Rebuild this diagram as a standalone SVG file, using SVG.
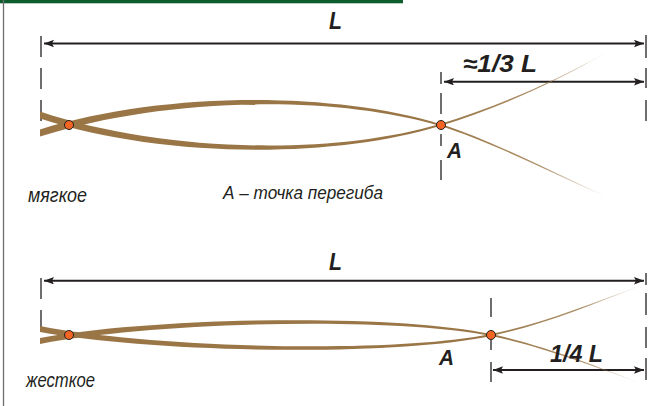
<svg xmlns="http://www.w3.org/2000/svg" width="648" height="406" viewBox="0 0 648 406">
<style>
.dim{stroke:#231f20;stroke-width:2;fill:none;marker-start:url(#ah);marker-end:url(#ah)}
.tick{stroke:#231f20;stroke-width:1.3;fill:none}
.rod{fill:#9a7646}
.dot{fill:#f26522;stroke:#231f20;stroke-width:1}
.lbl{font-family:"Liberation Sans Narrow","Liberation Sans",Arial,sans-serif;font-style:italic;fill:#231f20}
.big{font-weight:bold}
</style>
<defs>
<marker id="ah" markerUnits="userSpaceOnUse" markerWidth="12" markerHeight="10" refX="10" refY="3.75" orient="auto-start-reverse">
<path d="M0,0 L10,3.75 L0,7.5 L2,3.75 Z" fill="#231f20"/>
</marker>
<linearGradient id="fadeTop" gradientUnits="userSpaceOnUse" x1="440" y1="0" x2="607" y2="0">
<stop offset="0" stop-color="#9a7646" stop-opacity="1"/>
<stop offset="0.6" stop-color="#9a7646" stop-opacity="0.8"/>
<stop offset="1" stop-color="#9a7646" stop-opacity="0"/>
</linearGradient>
<linearGradient id="fadeBot" gradientUnits="userSpaceOnUse" x1="491" y1="0" x2="640" y2="0">
<stop offset="0" stop-color="#9a7646" stop-opacity="1"/>
<stop offset="0.6" stop-color="#9a7646" stop-opacity="0.8"/>
<stop offset="1" stop-color="#9a7646" stop-opacity="0"/>
</linearGradient>
</defs>
<rect width="648" height="406" fill="#ffffff"/>
<rect x="0" y="0" width="403" height="3.3" fill="#0d5c2e"/>
<line x1="3.5" y1="0" x2="3.5" y2="406" stroke="#6d6e71" stroke-width="1.3"/>

<g id="connectors">
<path class="tick" d="M41,36V57M41,68V89M41,100V121"/>
<path class="tick" d="M646,35V58M646,68V88M646,100V121"/>
<path class="tick" d="M441,72V84M441,93V114M441,134V146M441,160V180"/>
<line class="dim" x1="44" y1="43.5" x2="644" y2="43.5"/>
<line class="dim" x1="444" y1="81.7" x2="644" y2="81.7"/>
<path class="tick" d="M41,278V299M41,310V327"/>
<path class="tick" d="M646,273V285M646,293V315M646,327V348M646,358V380"/>
<path class="tick" d="M491,298V317M491,340V350M491,362V382"/>
<line class="dim" x1="44" y1="280.7" x2="644" y2="280.7"/>
<line class="dim" x1="493" y1="370" x2="644" y2="370"/>
</g>

<g id="soft-rod">
<path class="rod" d="M40,129.5 C160,92 330,90.5 440,124 L440,126 C330,93.5 160,98 40,136.5 Z"/>
<path class="rod" d="M40,111.5 C160,152 330,156.5 440,124 L440,126 C330,159.5 160,158 40,118.5 Z"/>
<path fill="url(#fadeTop)" d="M440,124 C490,109.1 550,84.3 607,51.7 L607,52.3 C550,85.7 490,110.9 440,126 Z"/>
<path fill="url(#fadeTop)" d="M440,124 C490,139.1 550,171.3 607,196.7 L607,197.3 C550,172.7 490,140.9 440,126 Z"/>
</g>
<g id="soft-left-point"><circle class="dot" cx="69" cy="125" r="4.5"/></g>
<g id="soft-point-A"><circle class="dot" cx="441" cy="125" r="4.5"/>
<text class="lbl big" x="447" y="158" font-size="22" textLength="15" lengthAdjust="spacingAndGlyphs">A</text></g>

<g id="stiff-rod">
<path class="rod" d="M40,338 C150,317.7 390,312.5 491,334 L491,336 C390,315.5 150,322.3 40,344 Z"/>
<path class="rod" d="M40,326 C150,347.7 390,354.5 491,334 L491,336 C390,357.5 150,352.3 40,332 Z"/>
<path fill="url(#fadeBot)" d="M491,334 C540,324.1 590,304.3 637,286.7 L637,287.3 C590,305.7 540,325.9 491,336 Z"/>
<path fill="url(#fadeBot)" d="M491,334 C540,344.1 600,367.3 640,382.7 L640,383.3 C600,368.7 540,345.9 491,336 Z"/>
</g>
<g id="stiff-left-point"><circle class="dot" cx="69" cy="335" r="4.5"/></g>
<g id="stiff-point-A"><circle class="dot" cx="491" cy="335" r="4.5"/>
<text class="lbl big" x="439" y="365" font-size="22" textLength="15" lengthAdjust="spacingAndGlyphs">A</text></g>

<g id="labels">
<text class="lbl big" x="329" y="29" font-size="24" textLength="13" lengthAdjust="spacingAndGlyphs">L</text>
<text class="lbl big" x="463" y="72" font-size="24" textLength="74" lengthAdjust="spacingAndGlyphs">≈1/3 L</text>
<text class="lbl big" x="329" y="270" font-size="24" textLength="13" lengthAdjust="spacingAndGlyphs">L</text>
<text class="lbl big" x="550" y="362" font-size="24" textLength="53" lengthAdjust="spacingAndGlyphs">1/4 L</text>
<text class="lbl" x="28" y="202" font-size="21" textLength="59" lengthAdjust="spacingAndGlyphs">мягкое</text>
<text class="lbl" x="223" y="199" font-size="19" textLength="160" lengthAdjust="spacingAndGlyphs">А – точка перегиба</text>
<text class="lbl" x="26" y="387" font-size="21" textLength="69" lengthAdjust="spacingAndGlyphs">жесткое</text>
</g>
</svg>
